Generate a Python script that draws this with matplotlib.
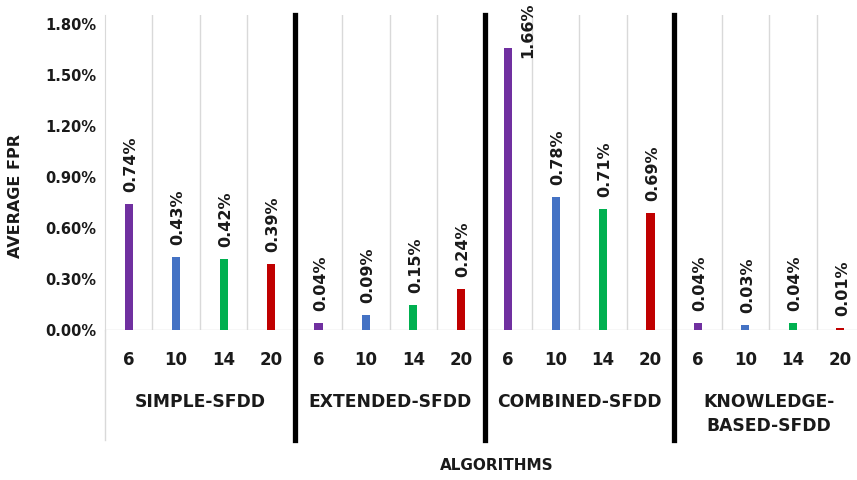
import numpy as np
import matplotlib
matplotlib.use('Agg')
import matplotlib.pyplot as plt
from matplotlib.ticker import PercentFormatter
from matplotlib.transforms import blended_transform_factory

# data (average FPR in percent)
groups = ['SIMPLE-SFDD', 'EXTENDED-SFDD', 'COMBINED-SFDD', 'KNOWLEDGE-\nBASED-SFDD']
sizes = ['6', '10', '14', '20']
simple_fpr = [0.74, 0.43, 0.42, 0.39]
extended_fpr = [0.04, 0.09, 0.15, 0.24]
combined_fpr = [1.66, 0.78, 0.71, 0.69]
knowledge_fpr = [0.04, 0.03, 0.04, 0.01]
yticks = [0.0, 0.3, 0.6, 0.9, 1.2, 1.5, 1.8]

colors = ['#7030A0', '#4472C4', '#00B050', '#C00000']
FONT = 'DejaVu Sans'
TXT = '#1a1a1a'

all_fpr = [simple_fpr, extended_fpr, combined_fpr, knowledge_fpr]

fig = plt.figure(figsize=(8.57, 4.8), dpi=100)
ax = fig.add_axes([105 / 857, 150 / 480, 759 / 857, 315 / 480])

x = np.arange(16)
vals = [v for g in all_fpr for v in g]
cols = [colors[i % 4] for i in range(16)]
ax.bar(x, vals, width=0.17, color=cols, zorder=3)

ax.set_xlim(-0.5, 15.5)
ax.set_ylim(0, 1.853)

# light vertical gridlines between categories
for b in np.arange(0.5, 15.5, 1.0):
    if b in (3.5, 7.5, 11.5):
        continue
    ax.axvline(b, color='#D9D9D9', lw=1, zorder=1)

# thick black group separators running down through the labels
for b in (3.5, 7.5, 11.5):
    ax.axvline(b, ymin=-0.35, ymax=1.0, color='black', lw=3.8, clip_on=False, zorder=4)

for s in ['top', 'right', 'bottom']:
    ax.spines[s].set_visible(False)
ax.spines['left'].set_color('#D9D9D9')
ax.spines['left'].set_bounds(0, 1.853)
ax.axhline(0, color='#D9D9D9', lw=1, zorder=2)
# left axis line continues down through the label area
ax.plot([-0.5, -0.5], [0, -0.35 * 1.853], color='#D9D9D9', lw=1, clip_on=False)

ax.set_yticks(yticks)
ax.yaxis.set_major_formatter(PercentFormatter(xmax=100, decimals=2))
ax.tick_params(axis='y', length=0, pad=6)
for t in ax.get_yticklabels():
    t.set_fontfamily(FONT)
    t.set_fontweight('bold')
    t.set_fontsize(10.5)
    t.set_color(TXT)

ax.set_xticks(x)
ax.set_xticklabels(sizes * 4, fontfamily=FONT, fontweight='bold', fontsize=12, color=TXT)
ax.tick_params(axis='x', length=0, pad=15)

# group labels
trans = blended_transform_factory(ax.transData, ax.transAxes)
for i, g in enumerate(groups):
    ax.text(4 * i + 1.5, -0.2, g, transform=trans, ha='center', va='top',
            fontfamily=FONT, fontweight='bold', fontsize=12.3, color=TXT,
            linespacing=1.4)

# value labels
for xi, v in zip(x, vals):
    if v > 1.5:
        # too tall to sit above the bar, so it goes beside it
        ax.annotate(f'{v:.2f}%', xy=(xi, v), xytext=(19, -10), textcoords='offset pixels',
                    rotation=90, ha='center', va='bottom', fontfamily=FONT,
                    fontweight='bold', fontsize=11.5, color=TXT, annotation_clip=False)
    else:
        ax.annotate(f'{v:.2f}%', xy=(xi, v), xytext=(2, 12), textcoords='offset pixels',
                    rotation=90, ha='center', va='bottom', fontfamily=FONT,
                    fontweight='bold', fontsize=11.5, color=TXT)

fig.text(16 / 857, 1 - 196 / 480, 'AVERAGE FPR', rotation=90, ha='center', va='center',
         fontfamily=FONT, fontweight='bold', fontsize=11.5, color=TXT)
fig.text(497 / 857, 1 - 465 / 480, 'ALGORITHMS', ha='center', va='center',
         fontfamily=FONT, fontweight='bold', fontsize=11, color=TXT)

fig.savefig('out.png', dpi=100, facecolor='white')
